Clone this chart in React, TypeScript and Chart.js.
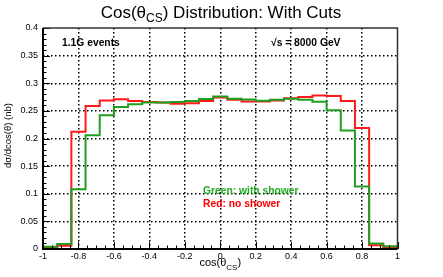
import React, { useEffect, useRef } from "react";
import { Chart, registerables } from "chart.js";

Chart.register(...registerables);

const binEdges = [
  -1, -0.92, -0.84, -0.76, -0.68, -0.6, -0.52, -0.44, -0.36, -0.28, -0.2, -0.12, -0.04,
  0.04, 0.12, 0.2, 0.28, 0.36, 0.44, 0.52, 0.6, 0.68, 0.76, 0.84, 0.92, 1,
];
const redNoShower = [
  0.003, 0.006, 0.212, 0.259, 0.269, 0.271, 0.268, 0.266, 0.265, 0.263, 0.264, 0.268, 0.274,
  0.27, 0.267, 0.267, 0.269, 0.273, 0.275, 0.278, 0.277, 0.268, 0.219, 0.007, 0.003,
];
const greenWithShower = [
  0.004, 0.009, 0.108, 0.206, 0.242, 0.257, 0.262, 0.265, 0.265, 0.266, 0.268, 0.2715, 0.276,
  0.272, 0.2705, 0.2685, 0.27, 0.272, 0.27, 0.2667, 0.251, 0.2145, 0.113, 0.01, 0.005,
];
const xTickStep = 0.2;
const xMinorStep = 0.05;
const yTickStep = 0.05;
const yMinorStep = 0.01;
const titleMain = "Cos(θ";
const titleSub = "CS";
const titleRest = ") Distribution: With Cuts";
const xTitleMain = "cos(θ";
const xTitleSub = "CS";
const xTitleRest = ")";
const yTitle = "dσ/dcos(θ) (nb)";
const labelEvents = "1.1G events";
const labelEnergy = "√s = 8000 GeV";
const labelGreen = "Green: with shower";
const labelRed = "Red: no shower";

const FONT = "'Liberation Sans', Arial, Helvetica, sans-serif";
const RED = "#ff1a1a";
const GREEN = "#1f9e1f";
const GREEN_TEXT = "#22aa22";

function toSteps(values: number[]) {
  return binEdges.map((x, i) => ({ x, y: values[Math.min(i, values.length - 1)] }));
}

function drawSubText(
  ctx: CanvasRenderingContext2D,
  parts: [string, string, string],
  cx: number,
  y: number,
  size: number,
  subSize: number,
  subDy: number
) {
  ctx.font = `${size}px ${FONT}`;
  const w1 = ctx.measureText(parts[0]).width;
  const w3 = ctx.measureText(parts[2]).width;
  ctx.font = `${subSize}px ${FONT}`;
  const w2 = ctx.measureText(parts[1]).width;
  let x = cx - (w1 + w2 + w3) / 2;
  ctx.textAlign = "left";
  ctx.textBaseline = "alphabetic";
  ctx.font = `${size}px ${FONT}`;
  ctx.fillText(parts[0], x, y);
  x += w1;
  ctx.font = `${subSize}px ${FONT}`;
  ctx.fillText(parts[1], x, y + subDy);
  x += w2;
  ctx.font = `${size}px ${FONT}`;
  ctx.fillText(parts[2], x, y);
}

const rootPlugin = {
  id: "rootStyle",
  afterDatasetsDraw(chart: any) {
    const ctx: CanvasRenderingContext2D = chart.ctx;
    const xs = chart.scales.x;
    const ys = chart.scales.y;
    const a = chart.chartArea;
    ctx.save();
    ctx.fillStyle = "#000";
    ctx.strokeStyle = "#000";
    ctx.lineWidth = 1;
    const nY = Math.round((ys.max - ys.min) / yMinorStep);
    for (let i = 0; i <= nY; i++) {
      const v = ys.min + i * yMinorStep;
      const major = Math.abs(v / yTickStep - Math.round(v / yTickStep)) < 1e-6;
      const py = Math.round(ys.getPixelForValue(v)) + 0.5;
      ctx.beginPath();
      ctx.moveTo(a.left, py);
      ctx.lineTo(a.left + (major ? 7 : 3.5), py);
      ctx.stroke();
    }
    const nX = Math.round((xs.max - xs.min) / xMinorStep);
    for (let i = 0; i <= nX; i++) {
      const v = xs.min + i * xMinorStep;
      const major = Math.abs(v / xTickStep - Math.round(v / xTickStep)) < 1e-6;
      const px = Math.round(xs.getPixelForValue(v)) + 0.5;
      ctx.beginPath();
      ctx.moveTo(px, a.bottom);
      ctx.lineTo(px, a.bottom - (major ? 7 : 3.5));
      ctx.stroke();
    }
    ctx.strokeStyle = "#333";
    ctx.lineWidth = 1.5;
    ctx.beginPath();
    ctx.moveTo(a.left, a.top);
    ctx.lineTo(a.right, a.top);
    ctx.lineTo(a.right, a.bottom);
    ctx.stroke();
    ctx.strokeStyle = "#000";
    ctx.lineWidth = 2;
    ctx.beginPath();
    ctx.moveTo(a.left, a.top);
    ctx.lineTo(a.left, a.bottom);
    ctx.lineTo(a.right, a.bottom);
    ctx.stroke();

    ctx.fillStyle = "#000";
    drawSubText(ctx, [titleMain, titleSub, titleRest], 221, 18, 17, 12, 4);
    drawSubText(ctx, [xTitleMain, xTitleSub, xTitleRest], (a.left + a.right) / 2, 266, 11, 8, 4);
    ctx.save();
    ctx.translate(10.5, (a.top + a.bottom) / 2 - 3);
    ctx.rotate(-Math.PI / 2);
    ctx.font = `9.5px ${FONT}`;
    ctx.textAlign = "center";
    ctx.textBaseline = "alphabetic";
    ctx.fillText(yTitle, 0, 0);
    ctx.restore();

    ctx.textAlign = "left";
    ctx.textBaseline = "alphabetic";
    ctx.font = `bold 10.3px ${FONT}`;
    ctx.fillStyle = "#000";
    ctx.fillText(labelEvents, 62, 45.5);
    ctx.fillText(labelEnergy, 271, 45.5);
    ctx.fillStyle = GREEN_TEXT;
    ctx.fillText(labelGreen, 203, 194);
    ctx.fillStyle = "#ff0000";
    ctx.fillText(labelRed, 203, 206.5);
    ctx.restore();
  },
};

export default function App() {
  const ref = useRef<HTMLCanvasElement | null>(null);
  useEffect(() => {
    if (!ref.current) return;
    const gridColor = (c: any) => {
      const v = c.tick ? c.tick.value : 0;
      const s = c.scale;
      if (Math.abs(v - s.min) < 1e-9 || Math.abs(v - s.max) < 1e-9) return "rgba(0,0,0,0)";
      return "#000";
    };
    const chart = new Chart(ref.current, {
      type: "line",
      data: {
        datasets: [
          {
            label: "with shower",
            data: toSteps(greenWithShower),
            borderColor: GREEN,
            borderWidth: 2,
            stepped: true,
            pointRadius: 0,
            fill: false,
          },
          {
            label: "no shower",
            data: toSteps(redNoShower),
            borderColor: RED,
            borderWidth: 2,
            stepped: true,
            pointRadius: 0,
            fill: false,
          },
        ],
      },
      options: {
        responsive: false,
        animation: false,
        devicePixelRatio: 1,
        layout: { padding: { left: 0, right: 45.5, top: 28, bottom: 0 } },
        plugins: {
          legend: { display: false },
          tooltip: { enabled: false },
          title: { display: false },
        },
        scales: {
          x: {
            type: "linear",
            min: -1,
            max: 1,
            afterFit: (s: any) => {
              s.height = 28;
            },
            ticks: {
              stepSize: xTickStep,
              color: "#000",
              font: { family: FONT, size: 9 },
              padding: 2,
              maxRotation: 0,
              callback: (v: any) => String(Number(Number(v).toFixed(2))),
            },
            grid: { color: gridColor, lineWidth: 1.5, drawTicks: false },
            border: { display: false, dash: [1.5, 2.5] },
          },
          y: {
            type: "linear",
            min: 0,
            max: 0.4,
            afterFit: (s: any) => {
              s.width = 43;
            },
            ticks: {
              stepSize: yTickStep,
              color: "#000",
              font: { family: FONT, size: 9 },
              padding: 5,
              callback: (v: any) => String(Number(Number(v).toFixed(3))),
            },
            grid: { color: gridColor, lineWidth: 1.5, drawTicks: false },
            border: { display: false, dash: [1.5, 2.5] },
          },
        },
      },
      plugins: [rootPlugin],
    });
    return () => chart.destroy();
  }, []);
  return (
    <div style={{ position: "fixed", left: 0, top: 0, width: 443, height: 277, background: "#fff" }}>
      <canvas ref={ref} width={443} height={277} style={{ display: "block" }} />
    </div>
  );
}
